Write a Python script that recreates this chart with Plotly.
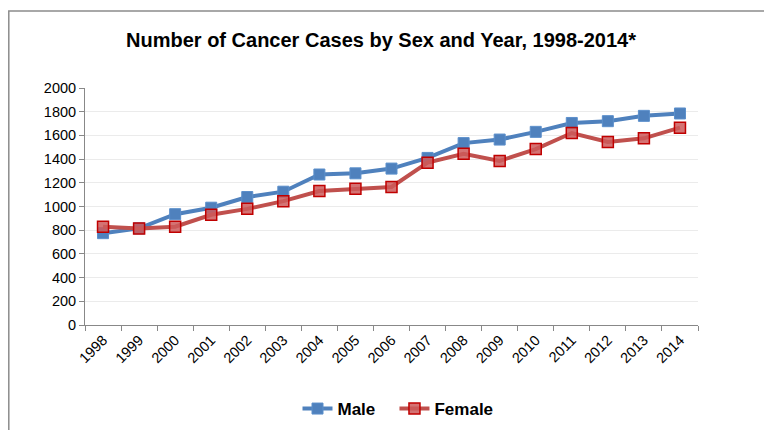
import plotly.graph_objects as go

years = [str(y) for y in range(1998, 2015)]
male = [775, 815, 935, 990, 1080, 1125, 1270, 1280, 1320, 1410, 1535, 1565, 1630, 1705, 1720, 1765, 1785]
female = [830, 815, 830, 930, 980, 1045, 1130, 1150, 1165, 1370, 1445, 1385, 1485, 1620, 1545, 1575, 1665]

# the page body adds an 8px offset; positions below are screen pixels minus OFF
OFF = 8
W, H = 772 - OFF, 430 - OFF
L, T = 85 - OFF, 88 - OFF
R = W - (698 - OFF)
B = H - (325 - OFF)
pw, ph = W - L - R, H - T - B


def px_x(x):
    return (x - OFF - L) / pw


def px_y(y):
    return (H - B - (y - OFF)) / ph


fig = go.Figure()
fig.add_trace(go.Scatter(
    x=years, y=male, name="<b>Male</b>   ", mode="lines+markers",
    line=dict(color="#4F81BD", width=4),
    marker=dict(symbol="square", size=11, color="#4F81BD", line=dict(color="#5B8FCB", width=1)),
))
fig.add_trace(go.Scatter(
    x=years, y=female, name="<b>Female</b>", mode="lines+markers",
    line=dict(color="#C0504D", width=4),
    marker=dict(symbol="square", size=11, color="rgba(205,90,90,0.85)", line=dict(color="#C00000", width=1.5)),
))

fig.update_layout(
    width=W, height=H,
    margin=dict(l=L, r=R, t=T, b=B, autoexpand=False),
    paper_bgcolor="white", plot_bgcolor="white",
    font=dict(family="Liberation Sans, Arial, sans-serif", color="black"),
    title=dict(text="<b>Number of Cancer Cases by Sex and Year, 1998-2014*</b>",
               x=px_x(381), xanchor="center", xref="paper",
               y=1 - (40 - OFF) / H, yanchor="middle",
               font=dict(size=20, color="black")),
    showlegend=True,
    legend=dict(orientation="h", x=px_x(398), xanchor="center", y=px_y(409), yanchor="middle",
                font=dict(size=17, color="black"), traceorder="normal"),
    xaxis=dict(type="category", range=[-0.5, 16.5], showgrid=False, automargin=False,
               showline=True, linecolor="#888888", linewidth=1,
               ticks="outside", tickson="boundaries", ticklen=5, tickcolor="#888888",
               tickangle=-45, tickfont=dict(size=14.5)),
    yaxis=dict(range=[0, 2000], dtick=200, showgrid=True, gridcolor="#EBEBEB", gridwidth=1,
               automargin=False,
               showline=True, linecolor="#888888", linewidth=1,
               ticks="outside", ticklen=5, tickcolor="#888888", zeroline=False,
               tickfont=dict(size=14.5)),
)

fig.add_shape(type="rect", xref="paper", yref="paper",
              x0=px_x(OFF + 0.8), x1=px_x(800), y0=px_y(460), y1=px_y(11),
              line=dict(color="#8C8C8C", width=1.5), fillcolor="rgba(0,0,0,0)", layer="below")

fig.write_html("out.html")
